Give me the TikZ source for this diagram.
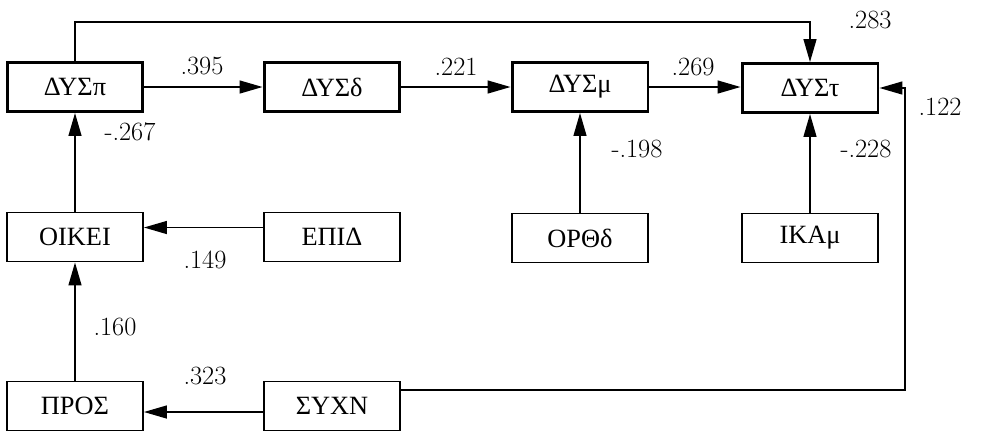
\documentclass[tikz,border=0pt]{standalone}
\usepackage{fontspec}
\newfontfamily\greekfont{Liberation Serif}
\usetikzlibrary{arrows.meta}

\begin{document}
\begin{tikzpicture}[
        x=0.02cm, y=-0.02cm,
        block/.style={
            rectangle,
            draw,
            line width=1.1pt,
            align=center,
            minimum width=2.72cm,
            minimum height=0.98cm,
            font=\greekfont\fontsize{15}{17}\selectfont,
            inner sep=4pt
        },
        mainblock/.style={
            block,
            line width=1.7pt
        },
        coef/.style={
            font=\fontsize{15}{17}\selectfont,
            inner sep=0pt
        },
        arrow/.style={
            -{Triangle[length=0.46cm,width=0.26cm]},
            line width=0.8pt
        }
    ]

        \useasboundingbox (0,0) rectangle (993,434);

        \node[mainblock] (dyspi) at (75,87) {ΔΥΣπ};
        \node[mainblock] (dysdelta) at (332,87) {ΔΥΣδ};
        \node[mainblock] (dysmu) at (580,87) {ΔΥΣμ};
        \node[mainblock] (dystau) at (810,88) {ΔΥΣτ};
        \node[block] (oikei) at (75,237) {ΟΙΚΕΙ};
        \node[block] (epid) at (332,237) {ΕΠΙΔ};
        \node[block] (orthd) at (580,238) {ΟΡΘδ};
        \node[block] (ikamu) at (810,238) {ΙΚΑμ};
        \node[block] (pros) at (75,406) {ΠΡΟΣ};
        \node[block] (sychn) at (332,406) {ΣΥΧΝ};

        \coordinate (topline) at (0,22);
        \coordinate (rightline) at (905,0);

        \draw[arrow] (dyspi.east) -- (dysdelta.west);
        \draw[arrow] (dysdelta.east) -- (dysmu.west);
        \draw[arrow] (dysmu.east) -- (dysmu.east -| dystau.west);
        \draw[arrow] (dyspi.north) -- (dyspi.north |- topline) -| (dystau.north);
        \draw[arrow] (oikei.north) -- (dyspi.south);
        \draw[arrow] ([yshift=0.19cm]epid.west) -- ([yshift=0.19cm]oikei.east);
        \draw[arrow] (orthd.north) -- (dysmu.south);
        \draw[arrow] (ikamu.north) -- (dystau.south);
        \draw[arrow] (pros.north) -- (oikei.south);
        \draw[arrow] ([yshift=-0.12cm]sychn.west) -- ([yshift=-0.12cm]pros.east);
        \draw[arrow] ([yshift=0.32cm]sychn.east) -| (rightline |- dystau) -- (dystau.east);

        \node[coef] (c283) at (870,20) {.283};
        \node[coef] (c395) at (202,66) {.395};
        \node[coef] (c221) at (456,67) {.221};
        \node[coef] (c269) at (693,67) {.269};
        \node[coef] (c122) at (940,107) {.122};
        \node[coef] (c267) at (130,132) {-.267};
        \node[coef] (c198) at (637,149) {-.198};
        \node[coef] (c228) at (866,149) {-.228};
        \node[coef] (c149) at (205,260) {.149};
        \node[coef] (c160) at (115,327) {.160};
        \node[coef] (c323) at (205,376) {.323};

    \end{tikzpicture}
\end{document}
